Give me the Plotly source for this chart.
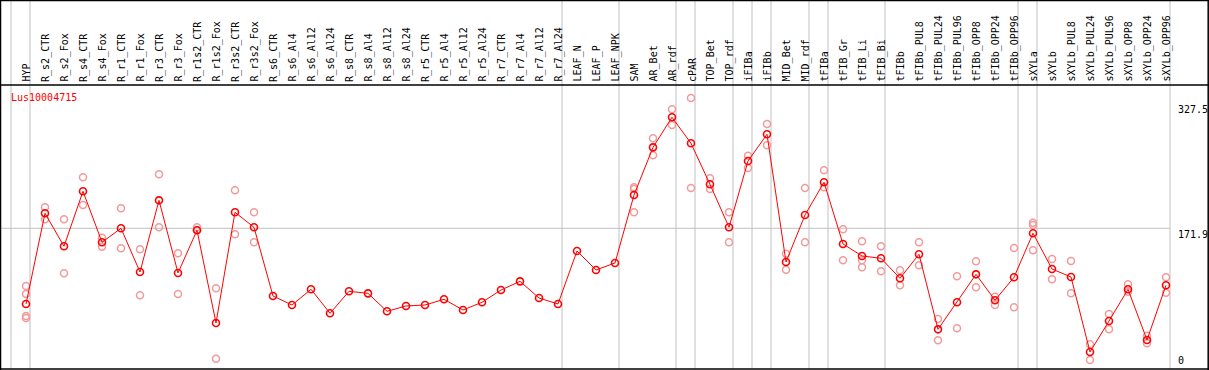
import plotly.graph_objects as go

categories = ["HYP", "R_s2_CTR", "R_s2_Fox", "R_s4_CTR", "R_s4_Fox", "R_r1_CTR", "R_r1_Fox",
              "R_r3_CTR", "R_r3_Fox", "R_r1s2_CTR", "R_r1s2_Fox", "R_r3s2_CTR", "R_r3s2_Fox",
              "R_s6_CTR", "R_s6_Al4", "R_s6_Al12", "R_s6_Al24", "R_s8_CTR", "R_s8_Al4", "R_s8_Al12",
              "R_s8_Al24", "R_r5_CTR", "R_r5_Al4", "R_r5_Al12", "R_r5_Al24", "R_r7_CTR", "R_r7_Al4",
              "R_r7_Al12", "R_r7_Al24", "LEAF_N", "LEAF_P", "LEAF_NPK", "SAM", "AR_Bet", "AR_rdf",
              "cPAR", "TOP_Bet", "TOP_rdf", "iFIBa", "iFIBb", "MID_Bet", "MID_rdf", "tFIBa",
              "tFIB_Gr", "tFIB_Li", "tFIB_Bi", "tFIBb", "tFIBb_PUL8", "tFIBb_PUL24", "tFIBb_PUL96",
              "tFIBb_OPP8", "tFIBb_OPP24", "tFIBb_OPP96", "sXYLa", "sXYLb", "sXYLb_PUL8",
              "sXYLb_PUL24", "sXYLb_PUL96", "sXYLb_OPP8", "sXYLb_OPP24", "sXYLb_OPP96"]

means = [77.9, 190.5, 149.5, 217.8, 154.5, 171.9, 117.6, 206.6, 116.4, 169.4, 54.3, 191.7, 173.1,
         87.8, 76.6, 96.1, 66.3, 93.6, 91.1, 68.8, 75.4, 76.6, 83.7, 70.4, 80.0, 95.2, 106.0,
         85.3, 77.9, 143.7, 120.1, 128.8, 213.2, 272.4, 309.7, 277.4, 226.5, 173.1, 255.4, 288.6,
         130.0, 188.4, 229.0, 152.4, 137.5, 134.6, 109.8, 139.6, 46.4, 80.0, 114.7, 82.5, 111.0,
         165.7, 121.3, 111.4, 18.3, 56.7, 96.1, 33.2, 101.1]

N = None
rep_a = [100.2, 197.9, 183.0, 235.2, 160.2, 196.7, 145.8, 238.9, 140.8, 173.1, 97.4, 219.0, 191.7,
         N, N, N, N, N, N, N, N, N, N, N, N, N, N, N, N, N, N, N,
         222.8, 283.6, 319.6, 333.7, 233.9, 191.7, 262.0, 301.4, 140.3, 221.9, 243.9, 170.6, 155.7,
         149.5, 119.7, 154.5, 59.2, 112.3, 130.9, 86.9, 147.4, 178.8, 133.7, 131.3, 27.8, 65.4,
         102.3, 38.5, 111.0]
rep_b = [90.3, 183.0, 116.0, 200.8, 149.0, 147.0, 88.7, 173.1, 90.3, 169.8, 9.9, 164.4, 154.5,
         N, N, N, N, N, N, N, N, N, N, N, N, N, N, N, N, N, N, N,
         220.7, 262.5, 300.1, 221.9, 220.7, 154.5, 246.7, 274.9, 120.5, 154.5, 222.8, 132.1, 132.1,
         118.5, 101.1, 125.9, 32.8, 47.7, 98.6, 76.6, 73.8, 176.0, 108.5, 91.1, 8.3, 46.4,
         93.1, 29.1, 91.9]
rep_c = [63.0, N, N, N, N, N, N, N, N, N, N, N, N,
         N, N, N, N, N, N, N, N, N, N, N, N, N, N, N, N, N, N, N,
         191.7, N, N, N, N, N, N, N, N, N, N, N, 123.4,
         N, N, N, N, N, N, N, N, 144.5, N, N, N, N,
         N, N, N]
rep_d = [60.5] + [N] * 60

# number of categories in each group (separators drawn after each group)
group_sizes = [1, 28, 3, 3, 1, 2, 1, 1, 2, 1, 3, 7, 1, 7]

right_ticks = [327.5, 171.9]
right_tick_text = ["327.5", "171.9"]
gene_id = "Lus10004715"

W, H = 1209, 370
PX = 19.0
x0 = -26.0 / PX
x1 = x0 + W / PX
Y0PIX, SLOPE = 366.7, 0.8053
ylo = -(H - Y0PIX) / SLOPE
yhi = Y0PIX / SLOPE

def py(pix):
    return 1 - pix / H

xs = list(range(len(categories)))
MONO = "DejaVu Sans Mono"
pink = "#f29a9a"

fig = go.Figure()
for reps in (rep_a, rep_b, rep_c, rep_d):
    fig.add_trace(go.Scatter(x=xs, y=reps, mode="markers",
                             marker=dict(symbol="circle-open", size=7, color=pink,
                                         line=dict(width=1.5, color=pink)),
                             hoverinfo="skip"))
fig.add_trace(go.Scatter(x=xs, y=means, mode="lines+markers",
                         line=dict(color="#ff0000", width=1),
                         marker=dict(symbol="circle-open", size=7, color="#ff0000",
                                     line=dict(width=1.6, color="#ff0000"))))

shapes = []
off = 4.0 / PX
bounds = [-1]
c = -1
for g in group_sizes:
    c += g
    bounds.append(c)
for b in bounds:
    shapes.append(dict(type="line", xref="x", yref="paper", x0=b + off, x1=b + off,
                       y0=py(369), y1=1, line=dict(color="#c0c0c0", width=1), layer="below"))
# horizontal grid line
shapes.append(dict(type="line", xref="x", yref="y", x0=x0, x1=bounds[-1] + off,
                   y0=right_ticks[1], y1=right_ticks[1],
                   line=dict(color="#c0c0c0", width=1), layer="below"))
# frame lines
black = dict(color="#000000", width=1.5)
shapes += [
    dict(type="line", xref="paper", yref="paper", x0=0, x1=1, y0=py(0.5), y1=py(0.5), line=black),
    dict(type="line", xref="paper", yref="paper", x0=0, x1=1, y0=py(85), y1=py(85), line=black),
    dict(type="line", xref="paper", yref="paper", x0=0, x1=1, y0=py(369), y1=py(369), line=black),
    dict(type="line", xref="paper", yref="paper", x0=0.5 / W, x1=0.5 / W, y0=0, y1=1, line=black),
    dict(type="line", xref="paper", yref="paper", x0=1 - 0.8 / W, x1=1 - 0.8 / W, y0=0, y1=1, line=black),
]

annotations = []
for i, lab in enumerate(categories):
    annotations.append(dict(x=i + 0.05, y=py(82.5), xref="x", yref="paper", text=lab, showarrow=False,
                            textangle=-90, xanchor="center", yanchor="bottom",
                            font=dict(family=MONO, size=10, color="#000000"), borderpad=0))
annotations.append(dict(x=9 / W, y=py(97), xref="paper", yref="paper", text=gene_id,
                        showarrow=False, xanchor="left", yanchor="middle",
                        font=dict(family=MONO, size=10, color="#ff0000")))
for v, t in zip(right_ticks, right_tick_text):
    annotations.append(dict(x=1177 / W, y=v, xref="paper", yref="y", text=t, showarrow=False,
                            xanchor="left", yanchor="top", borderpad=0,
                            font=dict(family=MONO, size=10, color="#000000")))
annotations.append(dict(x=1177 / W, y=py(367), xref="paper", yref="paper", text="0",
                        showarrow=False, xanchor="left", yanchor="bottom", borderpad=0,
                        font=dict(family=MONO, size=10, color="#000000")))

fig.update_layout(width=W, height=H, margin=dict(l=0, r=0, t=0, b=0),
                  paper_bgcolor="white", plot_bgcolor="white", showlegend=False,
                  xaxis=dict(range=[x0, x1], visible=False, fixedrange=True),
                  yaxis=dict(range=[ylo, yhi], visible=False, fixedrange=True),
                  shapes=shapes, annotations=annotations)
fig.write_html("out.html", config={"displayModeBar": False},
               post_script="document.body.style.margin='0';document.body.style.padding='0';"
                           "document.body.style.overflow='hidden';")
